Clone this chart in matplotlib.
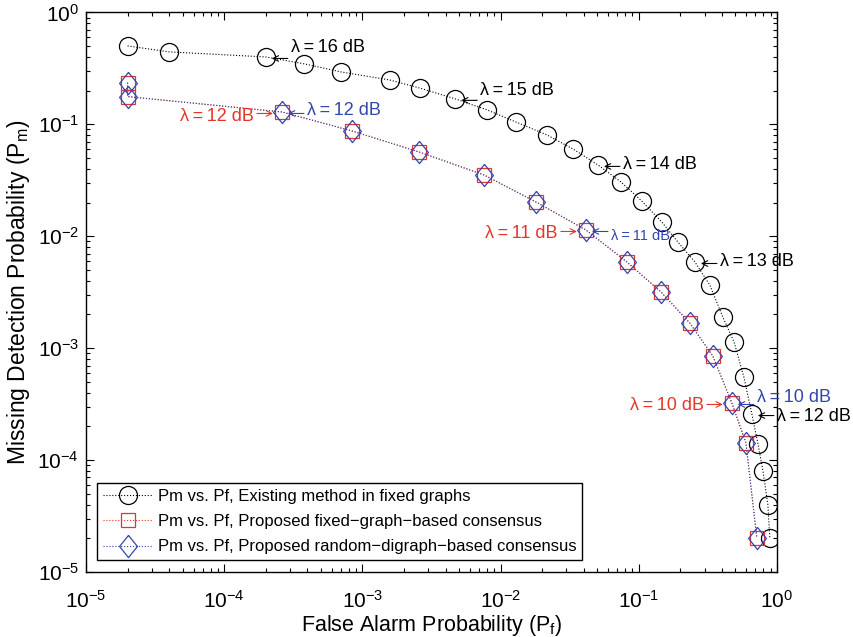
import matplotlib
matplotlib.use("Agg")
import matplotlib.pyplot as plt
from matplotlib.ticker import LogLocator, NullFormatter
from matplotlib.transforms import offset_copy

plt.rcParams["font.family"] = ["Liberation Sans", "DejaVu Sans"]
plt.rcParams["mathtext.fontset"] = "custom"
plt.rcParams["mathtext.rm"] = "Liberation Sans"
plt.rcParams["mathtext.it"] = "Liberation Sans"

# Existing method in fixed graphs
pf_exist = [2.0e-5, 4.0e-5, 2.0e-4, 3.8e-4, 7.0e-4, 1.58e-3, 2.6e-3, 4.7e-3,
            8.0e-3, 1.29e-2, 2.17e-2, 3.34e-2, 5.07e-2, 7.43e-2, 0.105, 0.147,
            0.192, 0.255, 0.327, 0.406, 0.489, 0.577, 0.659, 0.730, 0.793,
            0.861, 0.889]
pm_exist = [0.502, 0.444, 0.400, 0.347, 0.294, 0.249, 0.211, 0.169, 0.1345,
            0.105, 0.0804, 0.0603, 0.0434, 0.0306, 0.0207, 0.0134, 0.00889,
            0.00589, 0.00367, 0.0019, 0.00114, 0.000553, 0.000258, 0.000139,
            8.0e-5, 3.97e-5, 2.0e-5]

# Proposed fixed-graph-based consensus
pf_fixed = [2.0e-5, 2.0e-5, 2.62e-4, 8.41e-4, 2.57e-3, 7.59e-3, 1.8e-2,
            4.15e-2, 8.22e-2, 0.145, 0.234, 0.344, 0.472, 0.597, 0.716]
pm_fixed = [0.236, 0.177, 0.129, 0.0873, 0.0567, 0.0353, 0.0203, 0.01138,
            0.00589, 0.00318, 0.00168, 0.000852, 0.000324, 0.000142, 2.01e-5]

# Proposed random-digraph-based consensus
pf_random = [2.0e-5, 2.0e-5, 2.62e-4, 8.41e-4, 2.57e-3, 7.59e-3, 1.8e-2,
             4.15e-2, 8.22e-2, 0.145, 0.234, 0.344, 0.472, 0.597, 0.716]
pm_random = [0.236, 0.177, 0.129, 0.0873, 0.0567, 0.0353, 0.0203, 0.01138,
             0.00589, 0.00318, 0.00168, 0.000852, 0.000324, 0.000142, 2.01e-5]

legend_labels = [
    "Pm vs. Pf, Existing method in fixed graphs",
    "Pm vs. Pf, Proposed fixed\u2212graph\u2212based consensus",
    "Pm vs. Pf, Proposed random\u2212digraph\u2212based consensus",
]

RED = "#e5352b"
BLUE = "#3346ad"

# (label, x, y, colour, side of the point, fontsize, text shift down in px)
annotations = [
    ("\u03bb\u2009=\u200916 dB", 2.0e-4, 0.400, "black", "right", 13, -9),
    ("\u03bb\u2009=\u200915 dB", 4.7e-3, 0.169, "black", "right", 13, -8),
    ("\u03bb\u2009=\u200914 dB", 5.07e-2, 0.0434, "black", "right", 13, 0),
    ("\u03bb\u2009=\u200913 dB", 0.255, 0.00589, "black", "right", 13, 0),
    ("\u03bb\u2009=\u200912 dB", 0.659, 0.000258, "black", "right", 13, 2),
    ("\u03bb\u2009=\u200912 dB", 2.62e-4, 0.129, BLUE, "right", 13, -1),
    ("\u03bb\u2009=\u200911 dB", 4.15e-2, 0.01138, BLUE, "right", 10.5, 6),
    ("\u03bb\u2009=\u200910 dB", 0.472, 0.000324, BLUE, "right", 13, -5),
    ("\u03bb\u2009=\u200912 dB", 2.62e-4, 0.129, RED, "left", 13, 5),
    ("\u03bb\u2009=\u200911 dB", 4.15e-2, 0.01138, RED, "left", 13, 4),
    ("\u03bb\u2009=\u200910 dB", 0.472, 0.000324, RED, "left", 13, 3),
]

diamond = [(0, 1), (0.8, 0), (0, -1), (-0.8, 0), (0, 1)]
PX = 72.0 / 100.0  # points per pixel


def label_point(ax, fig, text, x, y, colour, side, size, shift):
    """Draw a MATLAB-like text with a short arrow pointing at (x, y)."""
    sign = 1 if side == "right" else -1
    tip, tail, gap = (6, 22, 25) if side == "right" else (9, 25, 28)
    tip_tr = offset_copy(ax.transData, fig=fig, x=sign * tip * PX,
                         y=-1.5 * PX, units="points")
    tail_tr = offset_copy(ax.transData, fig=fig, x=sign * tail * PX,
                          y=-1.5 * PX, units="points")
    ax.annotate("", xy=(x, y), xycoords=tip_tr, xytext=(x, y),
                textcoords=tail_tr, annotation_clip=False,
                arrowprops=dict(arrowstyle="->", color=colour, lw=0.8,
                                shrinkA=0, shrinkB=0))
    text_tr = offset_copy(ax.transData, fig=fig, x=sign * gap * PX,
                          y=-shift * PX, units="points")
    ax.text(x, y, text, transform=text_tr, color=colour, fontsize=size,
            ha="left" if side == "right" else "right", va="center",
            clip_on=False)


fig = plt.figure(figsize=(8.54, 6.37), dpi=100)
ax = fig.add_axes([0.1007, 0.102, 0.809, 0.8785])

ax.plot(pf_exist, pm_exist, linestyle=":", linewidth=0.8, color="black",
        marker="o", markersize=13, markerfacecolor="none",
        markeredgecolor="black", markeredgewidth=0.9, label=legend_labels[0])
ax.plot(pf_fixed, pm_fixed, linestyle=":", linewidth=0.8, color=RED,
        marker="s", markersize=10.5, markerfacecolor="none",
        markeredgecolor=RED, markeredgewidth=0.9, label=legend_labels[1])
ax.plot(pf_random, pm_random, linestyle=":", linewidth=0.8, color=BLUE,
        marker=diamond, markersize=16, markerfacecolor="none",
        markeredgecolor=BLUE, markeredgewidth=0.9, label=legend_labels[2])

for label, x, y, colour, side, size, shift in annotations:
    label_point(ax, fig, label, x, y, colour, side, size, shift)

ax.set_xscale("log")
ax.set_yscale("log")
ax.set_xlim(1e-5, 1)
ax.set_ylim(1e-5, 1)

for axis in (ax.xaxis, ax.yaxis):
    axis.set_major_locator(LogLocator(base=10, numticks=10))
    axis.set_minor_locator(LogLocator(base=10, subs=range(2, 10), numticks=10))
    axis.set_minor_formatter(NullFormatter())

ax.tick_params(which="both", direction="in", top=True, right=True,
               labelsize=15, width=0.8)
ax.tick_params(which="major", length=6)
ax.tick_params(which="minor", length=3)
ax.tick_params(axis="x", which="major", pad=13)
ax.tick_params(axis="y", which="major", pad=5)
for spine in ax.spines.values():
    spine.set_linewidth(1.0)

ax.set_xlabel("False Alarm Probability (P$_\\mathrm{f}$)", fontsize=15.5, labelpad=1)
ax.set_ylabel("Missing Detection Probability (P$_\\mathrm{m}$)", fontsize=16.5, labelpad=4)

leg = ax.legend(loc="lower left", fontsize=12, frameon=True, fancybox=False,
                framealpha=1, edgecolor="black", handlelength=3.0,
                handletextpad=0.3, borderpad=0.35, labelspacing=0.62,
                borderaxespad=0, bbox_to_anchor=(0.016, 0.021))
leg.get_frame().set_linewidth(1.0)

fig.savefig("out.png", dpi=100)
